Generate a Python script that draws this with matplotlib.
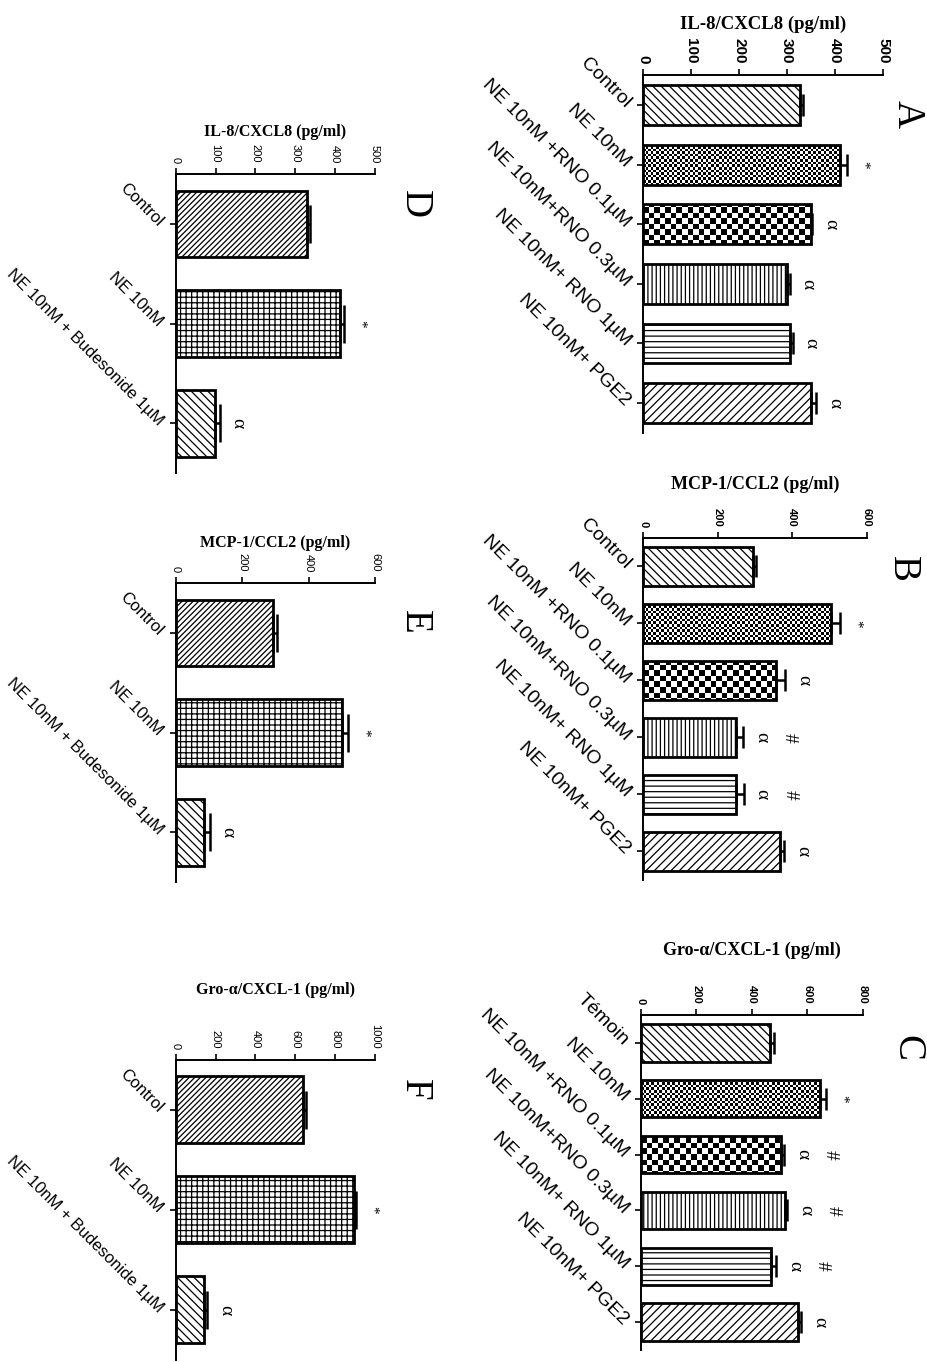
import numpy as np
import matplotlib.pyplot as plt

plt.rcParams['hatch.linewidth'] = 0.9
plt.rcParams['hatch.color'] = 'black'

SANS = 'Liberation Sans'
SERIF = 'Liberation Serif'

# categories
cats_rno = ['Control', 'NE 10nM', 'NE 10nM +RNO 0.1µM', 'NE 10nM+RNO 0.3µM',
            'NE 10nM+ RNO 1µM', 'NE 10nM+ PGE2']
cats_rno_fr = ['Témoin', 'NE 10nM', 'NE 10nM +RNO 0.1µM', 'NE 10nM+RNO 0.3µM',
               'NE 10nM+ RNO 1µM', 'NE 10nM+ PGE2']
cats_bud = ['Control', 'NE 10nM', 'NE 10nM + Budesonide 1µM']

# panel A-C : RNO / PGE2
il8_rno = [328, 411, 350, 301, 307, 349]
il8_rno_err = [5, 13, 3, 5, 5, 12]
mcp1_rno = [295, 504, 357, 250, 248, 368]
mcp1_rno_err = [8, 24, 24, 18, 22, 10]
gro_rno = [464, 646, 506, 518, 470, 566]
gro_rno_err = [15, 20, 10, 10, 18, 12]

# panel D-F : budesonide
il8_bud = [329, 412, 99]
il8_bud_err = [8, 10, 12]
mcp1_bud = [294, 500, 85]
mcp1_bud_err = [10, 20, 18]
gro_bud = [637, 895, 144]
gro_bud_err = [15, 10, 15]

# significance marks
marks_a = ['', '*', 'α', 'α', 'α', 'α']
marks_b = ['', '*', 'α', 'α#', 'α#', 'α']
marks_c = ['', '*', 'α#', 'α#', 'α#', 'α']
marks_bud = ['', '*', 'α']

# fill styles ('fine'/'coarse' = checkerboards)
fill_rno = ['\\\\\\\\', 'fine', 'coarse', '||||', '---', '////']
fill_bud = ['//////', '+++', '\\\\\\\\']

fig = plt.figure(figsize=(9.28, 13.62), dpi=100)


def checker(ax, bar, cell):
    bb = ax.get_position()
    w = bb.width * fig.get_figwidth() * fig.dpi
    h = bb.height * fig.get_figheight() * fig.dpi
    grid = np.add.outer(np.arange(int(h / cell)), np.arange(int(w / cell))) % 2
    x0, x1 = ax.get_xlim()
    y0, y1 = ax.get_ylim()
    im = ax.imshow(grid, cmap='gray', vmin=0, vmax=1, extent=(x0, x1, y0, y1),
                   aspect='auto', interpolation='nearest', zorder=1)
    im.set_clip_path(bar)
    ax.set_xlim(x0, x1)
    ax.set_ylim(y0, y1)


def panel(rect, cats, vals, errs, marks, fills, title, letter, vmax, step,
          tick_fs, tick_bold, cat_fs, title_fs, title_pad, letter_xy, capsize):
    ax = fig.add_axes(rect)
    y = np.arange(len(cats))
    ax.set_xlim(0, vmax)
    ax.set_ylim(len(cats) - 0.5, -0.5)
    bars = ax.barh(y, vals, height=0.67, color='white', edgecolor='black',
                   linewidth=2, zorder=2)
    for b, f in zip(bars, fills):
        if f == 'fine':
            b.set_facecolor('none')
            checker(ax, b, 2.6)
        elif f == 'coarse':
            b.set_facecolor('none')
            checker(ax, b, 5.5)
        else:
            b.set_hatch(f)
    ax.errorbar(vals, y, xerr=[np.zeros(len(vals)), errs], fmt='none',
                ecolor='black', elinewidth=1.8, capsize=capsize, capthick=1.8,
                zorder=3)

    # significance symbols
    for i, m in enumerate(marks):
        tip = vals[i] + errs[i]
        off = 7
        for s in m:
            ax.annotate(s, (tip, i), xytext=(off, 0), textcoords='offset points',
                        rotation=-90, ha='left', va='center',
                        fontsize=11 if s == '*' else 14,
                        family=SERIF, annotation_clip=False)
            off += 20

    ax.xaxis.tick_top()
    ax.xaxis.set_label_position('top')
    ticks = np.arange(0, vmax + 1, step)
    ax.set_xticks(ticks)
    ax.set_xticklabels([str(t) for t in ticks], rotation=-90, fontsize=tick_fs,
                       fontweight='bold' if tick_bold else 'normal', family=SANS)
    ax.set_yticks(y)
    ax.set_yticklabels(cats, rotation=-45, ha='right', va='center',
                       rotation_mode='anchor', fontsize=cat_fs, family=SANS)
    ax.tick_params(axis='both', direction='out', length=4, width=1.2)
    ax.tick_params(axis='x', pad=4)
    ax.tick_params(axis='y', pad=7)
    for s in ['right', 'bottom']:
        ax.spines[s].set_visible(False)
    for s in ['left', 'top']:
        ax.spines[s].set_linewidth(1.4)
    ax.set_xlabel(title, family=SERIF, fontweight='bold', fontsize=title_fs,
                  labelpad=title_pad)
    ax.text(letter_xy[0], letter_xy[1], letter, transform=ax.transAxes,
            rotation=-90, ha='center', va='center', fontsize=28, family=SERIF)
    return ax


panel([0.6929, 0.6821, 0.2586, 0.2628], cats_rno, il8_rno, il8_rno_err, marks_a,
      fill_rno, 'IL-8/CXCL8 (pg/ml)', 'A', 500, 100, 11, True, 14, 13.5, 7,
      (1.10, 0.89), 8)
panel([0.6929, 0.3539, 0.2414, 0.2511], cats_rno, mcp1_rno, mcp1_rno_err, marks_b,
      fill_rno, 'MCP-1/CCL2 (pg/ml)', 'B', 600, 200, 8, True, 14, 13, 14,
      (1.16, 0.91), 8)
panel([0.6907, 0.0088, 0.2392, 0.2460], cats_rno_fr, gro_rno, gro_rno_err, marks_c,
      fill_rno, 'Gro-α/CXCL-1 (pg/ml)', 'C', 800, 200, 8, True, 14, 13, 22,
      (1.20, 0.90), 8)
panel([0.1893, 0.6527, 0.2148, 0.2195], cats_bud, il8_bud, il8_bud_err, marks_bud,
      fill_bud, 'IL-8/CXCL8 (pg/ml)', 'D', 500, 100, 8, False, 12, 11.5, 6,
      (1.20, 0.90), 14)
panel([0.1893, 0.3524, 0.2148, 0.2195], cats_bud, mcp1_bud, mcp1_bud_err, marks_bud,
      fill_bud, 'MCP-1/CCL2 (pg/ml)', 'E', 600, 200, 8, False, 12, 11.5, 5,
      (1.20, 0.87), 14)
panel([0.1893, 0.0015, 0.2148, 0.2203], cats_bud, gro_bud, gro_bud_err, marks_bud,
      fill_bud, 'Gro-α/CXCL-1 (pg/ml)', 'F', 1000, 200, 8, False, 12, 11.5, 22,
      (1.20, 0.90), 14)

fig.savefig('out.png', dpi=100)
